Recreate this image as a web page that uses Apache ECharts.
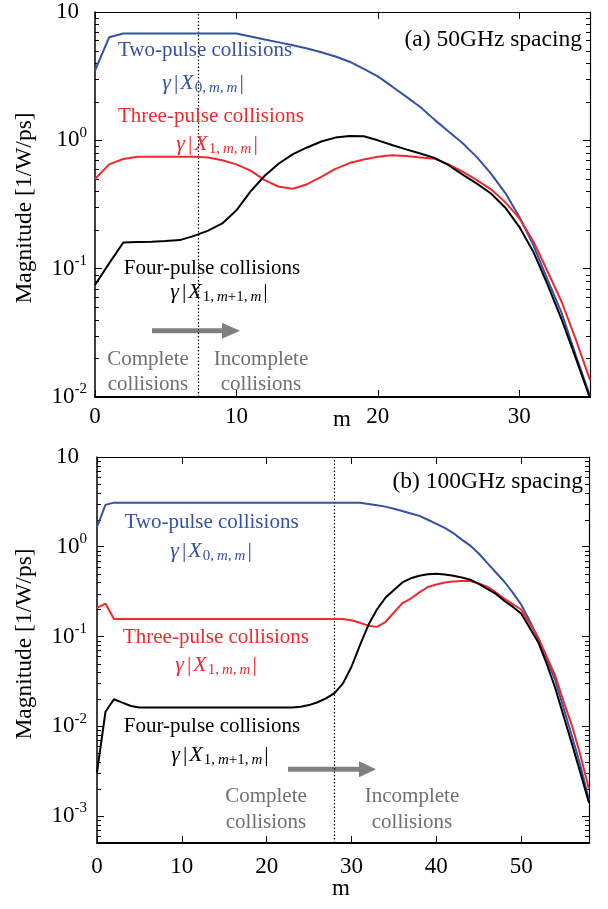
<!DOCTYPE html>
<html><head><meta charset="utf-8">
<script src="https://cdn.jsdelivr.net/npm/echarts@6/dist/echarts.min.js"></script>
<style>html,body{margin:0;padding:0;background:#fff}#c{width:608px;height:909px}</style>
</head><body><div id="c"></div>
<script>
// ---- data (index = m) ----
const twoA = [3.5, 6.35, 6.8, 6.8, 6.8, 6.8, 6.8, 6.8, 6.8, 6.8, 6.8, 6.45, 6.1, 5.8, 5.5, 5.2, 4.85, 4.5, 4.1, 3.6, 3.15, 2.63, 2.19, 1.82, 1.45, 1.17, 0.95, 0.74, 0.55, 0.39, 0.254, 0.152, 0.082, 0.045, 0.021, 0.0102];
const threeA = [0.50, 0.65, 0.715, 0.745, 0.745, 0.745, 0.745, 0.745, 0.735, 0.70, 0.65, 0.58, 0.49, 0.435, 0.42, 0.455, 0.52, 0.60, 0.665, 0.71, 0.745, 0.765, 0.755, 0.735, 0.72, 0.65, 0.57, 0.49, 0.415, 0.33, 0.248, 0.163, 0.095, 0.055, 0.028, 0.0136];
const fourA = [0.0745, 0.11, 0.16, 0.161, 0.162, 0.164, 0.167, 0.18, 0.198, 0.225, 0.285, 0.40, 0.53, 0.66, 0.78, 0.88, 0.98, 1.05, 1.08, 1.075, 1.0, 0.92, 0.85, 0.79, 0.73, 0.64, 0.54, 0.46, 0.385, 0.30, 0.212, 0.135, 0.075, 0.04, 0.02, 0.0098];

const twoB = [1.66, 2.93, 3.1, 3.1, 3.1, 3.1, 3.1, 3.1, 3.1, 3.1, 3.1, 3.1, 3.1, 3.1, 3.1, 3.1, 3.1, 3.1, 3.1, 3.1, 3.1, 3.1, 3.1, 3.1, 3.1, 3.1, 3.1, 3.1, 3.1, 3.1, 3.1, 3.1, 3.0, 2.9, 2.8, 2.65, 2.5, 2.35, 2.21, 2.0, 1.8, 1.62, 1.42, 1.2, 1.03, 0.84, 0.66, 0.52, 0.41, 0.31, 0.227, 0.15, 0.095, 0.056, 0.033, 0.016, 0.0077, 0.0036, 0.0015];
const threeB = [0.208, 0.233, 0.157, 0.157, 0.157, 0.157, 0.157, 0.157, 0.157, 0.157, 0.157, 0.157, 0.157, 0.157, 0.157, 0.157, 0.157, 0.157, 0.157, 0.157, 0.157, 0.157, 0.157, 0.157, 0.157, 0.157, 0.157, 0.157, 0.157, 0.157, 0.152, 0.142, 0.132, 0.128, 0.145, 0.185, 0.235, 0.265, 0.31, 0.356, 0.38, 0.40, 0.41, 0.415, 0.415, 0.39, 0.36, 0.31, 0.265, 0.23, 0.2, 0.14, 0.098, 0.06, 0.037, 0.019, 0.0101, 0.0047, 0.002];
const fourB = [0.00306, 0.0145, 0.02, 0.0183, 0.0168, 0.0162, 0.0162, 0.0162, 0.0162, 0.0162, 0.0162, 0.0162, 0.0162, 0.0162, 0.0162, 0.0162, 0.0162, 0.0162, 0.0162, 0.0162, 0.0162, 0.0162, 0.0162, 0.0162, 0.0165, 0.0172, 0.0185, 0.0204, 0.0234, 0.030, 0.046, 0.080, 0.135, 0.2, 0.27, 0.33, 0.40, 0.445, 0.475, 0.495, 0.5, 0.49, 0.475, 0.455, 0.43, 0.385, 0.34, 0.30, 0.25, 0.215, 0.18, 0.125, 0.087, 0.05, 0.027, 0.013, 0.0063, 0.003, 0.0014];

const xTicksA = [0, 10, 20, 30];
const xRangeA = [0, 35];
const xRangeB = [0, 58];
const yRangeA = [0.01, 10];
const yRangeB = [0.0005, 10];
const boundaryA = 7.3;   // complete / incomplete boundary
const boundaryB = 28;

const labels = {
  two: 'Two-pulse collisions', three: 'Three-pulse collisions', four: 'Four-pulse collisions',
  complete: 'Complete\ncollisions', incomplete: 'Incomplete\ncollisions',
  a: '(a) 50GHz spacing', b: '(b) 100GHz spacing', y: 'Magnitude [1/W/ps]', x: 'm'
};

// ---- styling ----
const serif = "'Liberation Serif','Times New Roman',serif";
const BLUE = '#3452a5', RED = '#ef2a2e', BLACK = '#000000', GRAY = '#707070', AGRAY = '#808080';

const toPts = arr => arr.map((v, i) => [i, v]);

function minorTicks(lo, hi) {
  const out = [];
  for (let d = -5; d <= 1; d++) for (let k = 2; k <= 9; k++) {
    const v = k * Math.pow(10, d);
    if (v > lo * 1.0001 && v < hi * 0.9999) out.push([0, v]);
  }
  return out;
}

const yLabel = {
  fontFamily: serif, color: '#000',
  formatter: v => {
    const e = Math.round(Math.log10(v));
    return e === 1 ? '{bt|10}' : '{b|10}{s|' + e + '}';
  },
  rich: {
    b: {fontFamily: serif, fontSize: 23, lineHeight: 30, color: '#000'},
    bt: {fontFamily: serif, fontSize: 23, lineHeight: 30, color: '#000', padding: [0, 8, 0, 0]},
    s: {fontFamily: serif, fontSize: 15, lineHeight: 8, verticalAlign: 'top', color: '#000'}
  }
};

function xAxisPair(grid, range) {
  return [
    {type: 'value', gridIndex: grid, position: 'bottom', min: range[0], max: range[1], interval: 10,
     axisLine: {show: true, onZero: false, lineStyle: {color: '#000', width: 2}},
     axisTick: {show: true, inside: true, length: 7, lineStyle: {color: '#000', width: 1}},
     axisLabel: {show: true, fontFamily: serif, fontSize: 23, color: '#000', margin: grid === 0 ? 8 : 12, showMaxLabel: false},
     splitLine: {show: false}},
    {type: 'value', gridIndex: grid, position: 'top', min: range[0], max: range[1], interval: 10,
     axisLine: {show: true, onZero: false, lineStyle: {color: '#000', width: 1.2}},
     axisTick: {show: true, inside: true, length: 7, lineStyle: {color: '#000', width: 1}},
     axisLabel: {show: false}, splitLine: {show: false}}
  ];
}
function yAxisPair(grid, range, margin) {
  return [
    {type: 'log', logBase: 10, gridIndex: grid, position: 'left', min: range[0], max: range[1],
     axisLine: {show: true, onZero: false, lineStyle: {color: '#000', width: 1.5}},
     axisTick: {show: true, inside: true, length: 7, lineStyle: {color: '#000', width: 1}},
     axisLabel: Object.assign({margin: margin, showMinLabel: range[0] === 0.01}, yLabel),
     splitLine: {show: false}, minorTick: {show: false}},
    {type: 'log', logBase: 10, gridIndex: grid, position: 'right', min: range[0], max: range[1],
     axisLine: {show: true, onZero: false, lineStyle: {color: '#000', width: 1.2}},
     axisTick: {show: true, inside: true, length: 7, lineStyle: {color: '#000', width: 1}},
     axisLabel: {show: false}, splitLine: {show: false}}
  ];
}

function lineSeries(arr, color, xi, yi, z) {
  return {type: 'line', data: toPts(arr), xAxisIndex: xi, yAxisIndex: yi, showSymbol: false, symbol: 'none',
          lineStyle: {color: color, width: 2}, itemStyle: {color: color}, z: z, silent: true, animation: false};
}
function minorSeries(xi, yi, range) {
  return {type: 'custom', xAxisIndex: xi, yAxisIndex: yi, data: minorTicks(range[0], range[1]), silent: true, z: 1,
    renderItem: (params, api) => {
      const p = api.coord([api.value(0), api.value(1)]);
      const cs = params.coordSys;
      const y = Math.round(p[1]) + 0.5;
      return {type: 'group', children: [
        {type: 'line', shape: {x1: cs.x, y1: y, x2: cs.x + 4, y2: y}, style: {stroke: '#000', lineWidth: 1}},
        {type: 'line', shape: {x1: cs.x + cs.width, y1: y, x2: cs.x + cs.width - 4, y2: y}, style: {stroke: '#000', lineWidth: 1}}
      ]};
    }};
}
function boundary(xv) {
  return {silent: true, symbol: 'none', label: {show: false},
          lineStyle: {color: '#000', type: [1.5, 2], width: 1.2}, data: [{xAxis: xv}]};
}

// ---- annotations ----
function txt(x, y, text, color, size, align, lh) {
  return {type: 'text', x: x, y: y, silent: true, z: 50,
    style: {text: text, fill: color, fontSize: size, fontFamily: serif, align: align || 'center',
            verticalAlign: 'middle', lineHeight: lh || size}};
}
const mathRich = {
  g: {fontFamily: serif, fontStyle: 'italic', fontSize: 22, lineHeight: 26, padding: [0, 1, 0, 0]},
  bar: {fontFamily: serif, fontSize: 22, lineHeight: 26, padding: [0, 2, 0, 2]},
  x: {fontFamily: serif, fontStyle: 'italic', fontSize: 22, lineHeight: 26, padding: [0, 1, 0, 0]},
  s: {fontFamily: serif, fontSize: 15, lineHeight: 12, verticalAlign: 'bottom'},
  si: {fontFamily: serif, fontStyle: 'italic', fontSize: 15, lineHeight: 12, verticalAlign: 'bottom'},
  c: {fontFamily: serif, fontSize: 15, lineHeight: 12, verticalAlign: 'bottom', padding: [0, 3, 0, 0]}
};
function mathTxt(x, y, subTokens, color) {
  return {type: 'text', x: x, y: y, silent: true, z: 50,
    style: {text: '{g|γ}{bar||}{x|X}' + subTokens + '{bar||}', rich: mathRich, fill: color,
            align: 'center', verticalAlign: 'middle'}};
}
const sub0 = '{s|0}{c|,}{si|m}{c|,}{si|m}';
const sub1 = '{s|1}{c|,}{si|m}{c|,}{si|m}';
const sub1p = '{s|1}{c|,}{si|m}{s|+1}{c|,}{si|m}';

function arrow(x0, x1, y, headLen, headH) {
  return {type: 'group', silent: true, z: 40, children: [
    {type: 'rect', shape: {x: x0, y: y - 2.5, width: x1 - headLen - x0 + 2, height: 5}, style: {fill: AGRAY}},
    {type: 'polygon', shape: {points: [[x1 - headLen, y - headH / 2], [x1, y], [x1 - headLen, y + headH / 2]]}, style: {fill: AGRAY}}
  ]};
}

const graphics = [
  // panel (a)
  txt(582, 39.5, labels.a, '#000', 23.5, 'right'),
  txt(205, 50.5, labels.two, BLUE, 21),
  mathTxt(204, 83, sub0, BLUE),
  txt(211, 116.5, labels.three, RED, 21),
  mathTxt(218, 144, sub1, RED),
  txt(212, 268.5, labels.four, '#000', 21),
  mathTxt(220, 292, sub1p, '#000'),
  arrow(152, 240, 330.8, 18, 16),
  txt(148, 371.5, labels.complete, GRAY, 21, 'center', 25),
  txt(261, 371.5, labels.incomplete, GRAY, 21, 'center', 25),
  {type: 'text', x: 25, y: 208, rotation: Math.PI / 2, silent: true,
   style: {text: labels.y, fill: '#000', fontSize: 23.5, fontFamily: serif, align: 'center', verticalAlign: 'middle'}},
  txt(342, 420, labels.x, '#000', 23),
  // panel (b)
  txt(583, 481.7, labels.b, '#000', 23.5, 'right'),
  txt(211.5, 522.5, labels.two, BLUE, 21),
  mathTxt(212, 551, sub0, BLUE),
  txt(216, 637.5, labels.three, RED, 21),
  mathTxt(217, 665, sub1, RED),
  txt(212, 726.5, labels.four, '#000', 21),
  mathTxt(221, 755, sub1p, '#000'),
  arrow(288, 376, 769.3, 17, 16),
  txt(266, 809, labels.complete, GRAY, 21, 'center', 26),
  txt(412, 809, labels.incomplete, GRAY, 21, 'center', 26),
  {type: 'text', x: 25, y: 644, rotation: Math.PI / 2, silent: true,
   style: {text: labels.y, fill: '#000', fontSize: 23.5, fontFamily: serif, align: 'center', verticalAlign: 'middle'}},
  txt(341, 889, labels.x, '#000', 23)
];

const chart = echarts.init(document.getElementById('c'), null, {renderer: 'canvas'});
const sA1 = lineSeries(twoA, BLUE, 0, 0, 5);
sA1.markLine = boundary(boundaryA);
const sB1 = lineSeries(twoB, BLUE, 2, 2, 5);
sB1.markLine = boundary(boundaryB);

chart.setOption({
  animation: false,
  backgroundColor: '#ffffff',
  grid: [
    {left: 95, top: 12, width: 495, height: 385, containLabel: false, outerBoundsMode: 'none'},
    {left: 97, top: 457, width: 492, height: 386, containLabel: false, outerBoundsMode: 'none'}
  ],
  xAxis: xAxisPair(0, xRangeA).concat(xAxisPair(1, xRangeB)),
  yAxis: yAxisPair(0, yRangeA, 8).concat(yAxisPair(1, yRangeB, 10)),
  series: [
    sA1,
    lineSeries(threeA, RED, 0, 0, 6),
    lineSeries(fourA, BLACK, 0, 0, 7),
    minorSeries(0, 0, yRangeA),
    sB1,
    lineSeries(threeB, RED, 2, 2, 6),
    lineSeries(fourB, BLACK, 2, 2, 7),
    minorSeries(2, 2, yRangeB)
  ],
  graphic: graphics
});
</script>
</body></html>
